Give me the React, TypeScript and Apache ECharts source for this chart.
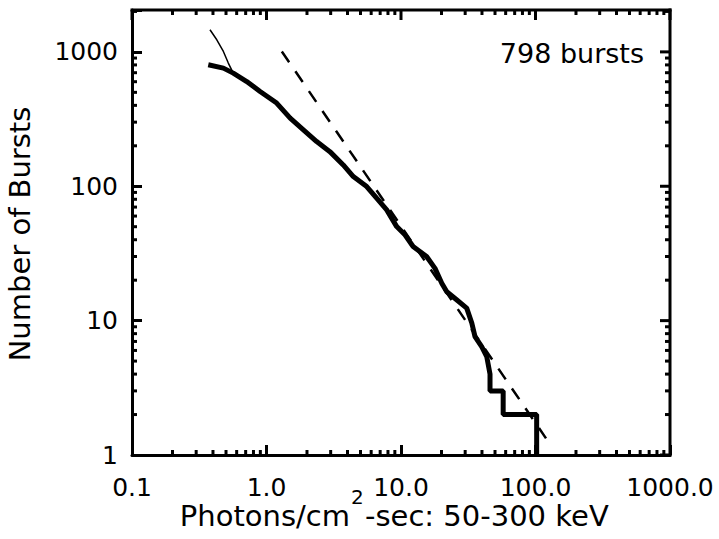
import React, { useEffect, useRef } from "react";
import * as echarts from "echarts";

// Thick curve: cumulative number of bursts
const thickX = [0.369, 0.478, 0.566, 0.713, 0.896, 1.19, 1.5, 1.88, 2.36, 2.96, 3.72, 4.42, 5.56, 6.59, 7.83, 9.29, 10.7, 12.3, 15.5, 17.9, 20.1, 21.9, 25.9, 30.8, 33.6, 35.5, 39.8, 43.4, 45.9, 45.9, 57.5, 57.5, 102, 102];
const thickY = [802, 757, 695, 602, 507, 416, 321, 263, 215, 181, 144, 118, 99.5, 81.5, 66.7, 50.1, 43.5, 35.6, 30, 24.5, 19, 16.4, 14.3, 12.4, 9.6, 7.6, 6.4, 5.4, 4, 3, 3, 2, 2, 1];

// Thin curve (faint end)
const thinX = [0.38, 0.427, 0.478, 0.52, 0.566];
const thinY = [1461, 1231, 1007, 826, 695];

// Dashed power-law reference line
const dashX = [1.3, 119.7];
const dashY = [1007, 1.33];

const X_MIN = 0.1;
const X_MAX = 1000;
const Y_MIN = 1;
const Y_MAX = 2050;

const xMajor = [0.1, 1, 10, 100, 1000];
const xMajorLabels = ["0.1", "1.0", "10.0", "100.0", "1000.0"];
const xMinor = [0.2, 0.3, 0.4, 0.5, 0.6, 0.7, 0.8, 0.9, 2, 3, 4, 5, 6, 7, 8, 9, 20, 30, 40, 50, 60, 70, 80, 90, 200, 300, 400, 500, 600, 700, 800, 900];
const yMajor = [1, 10, 100, 1000];
const yMajorLabels = ["1", "10", "100", "1000"];
const yMinor = [2, 3, 4, 5, 6, 7, 8, 9, 20, 30, 40, 50, 60, 70, 80, 90, 200, 300, 400, 500, 600, 700, 800, 900, 2000];

const FONT = "DejaVu Sans";

export default function App() {
  const ref = useRef<HTMLDivElement>(null);
  useEffect(() => {
    if (!ref.current) return;
    const chart = echarts.init(ref.current, undefined, { renderer: "svg" });
    const pair = (xs: number[], ys: number[]) => xs.map((x, i) => [x, ys[i]]);
    const labelFor = (vals: number[], labels: string[]) => (v: number) => {
      for (let i = 0; i < vals.length; i++) {
        if (Math.abs(Math.log10(v) - Math.log10(vals[i])) < 1e-6) return labels[i];
      }
      return "";
    };

    chart.setOption({
      animation: false,
      backgroundColor: "#fff",
      grid: { left: 132, right: 49, top: 10, bottom: 84, containLabel: false },
      xAxis: {
        type: "log", min: X_MIN, max: X_MAX,
        splitLine: { show: false },
        axisLine: { show: true, lineStyle: { color: "#000", width: 3 } },
        axisTick: { show: true, inside: true, length: 10, lineStyle: { color: "#000", width: 3 } },
        axisLabel: { show: true, formatter: labelFor(xMajor, xMajorLabels), fontSize: 25, fontFamily: FONT, color: "#000", margin: 20 },
      },
      yAxis: {
        type: "log", min: Y_MIN, max: Y_MAX,
        splitLine: { show: false },
        axisLine: { show: true, lineStyle: { color: "#000", width: 3 } },
        axisTick: { show: true, inside: true, length: 10, lineStyle: { color: "#000", width: 3 } },
        axisLabel: { show: true, formatter: labelFor(yMajor, yMajorLabels), fontSize: 25, fontFamily: FONT, color: "#000", margin: 14 },
      },
      series: [
        {
          type: "line", data: pair(thinX, thinY), showSymbol: false, symbol: "none",
          lineStyle: { color: "#000", width: 1.5 },
        },
        {
          type: "line", data: pair(dashX, dashY), showSymbol: false, symbol: "none",
          lineStyle: { color: "#000", width: 2.5, type: [13, 11] },
        },
        {
          type: "line", data: pair(thickX, thickY), showSymbol: false, symbol: "none",
          lineStyle: { color: "#000", width: 5 },
        },
      ],
    });

    // Frame (top/right), minor ticks and top/right major ticks, placed through the axes' scales
    const toX = (v: number) => chart.convertToPixel({ xAxisIndex: 0 }, v) as number;
    const toY = (v: number) => chart.convertToPixel({ yAxisIndex: 0 }, v) as number;
    const yb = toY(Y_MIN);
    const yt = toY(Y_MAX);
    const xl = toX(X_MIN);
    const xr = toX(X_MAX);
    const els: any[] = [];
    const bar = (x: number, y: number, w: number, h: number) => {
      els.push({ type: "rect", shape: { x: x, y: y, width: w, height: h }, style: { fill: "#000" } });
    };
    bar(xl - 1.5, yt - 1.5, xr - xl + 3, 3);
    bar(xr - 1.5, yt - 1.5, 3, yb - yt + 3);
    xMajor.forEach((v) => { const p = toX(v); bar(p - 1.5, yt, 3, 10); });
    xMinor.forEach((v) => { const p = toX(v); bar(p - 1.5, yb - 5, 3, 5); bar(p - 1.5, yt, 3, 5); });
    yMajor.forEach((v) => { const p = toY(v); bar(xr - 10, p - 1.5, 10, 3); });
    yMinor.forEach((v) => { const p = toY(v); bar(xl, p - 1.5, 5, 3); bar(xr - 5, p - 1.5, 5, 3); });

    chart.setOption({
      graphic: [
        ...els,
        {
          type: "text", x: 644, y: 53,
          style: { text: "798 bursts", fontSize: 27, fontFamily: FONT, fill: "#000", align: "right", verticalAlign: "middle" },
        },
        {
          type: "text", x: 20, y: 234, rotation: Math.PI / 2,
          style: { text: "Number of Bursts", fontSize: 29, fontFamily: FONT, fill: "#000", align: "center", verticalAlign: "middle" },
        },
        {
          type: "text", x: 350, y: 516,
          style: { text: "Photons/cm", fontSize: 29, fontFamily: FONT, fill: "#000", align: "right", verticalAlign: "middle" },
        },
        {
          type: "text", x: 351, y: 497,
          style: { text: "2", fontSize: 20, fontFamily: FONT, fill: "#000", align: "left", verticalAlign: "middle" },
        },
        {
          type: "text", x: 365, y: 516,
          style: { text: "-sec: 50-300 keV", fontSize: 29, fontFamily: FONT, fill: "#000", align: "left", verticalAlign: "middle" },
        },
      ],
    });
    return () => chart.dispose();
  }, []);
  return <div ref={ref} style={{ position: "fixed", left: 0, top: 0, width: 719, height: 539 }} />;
}
